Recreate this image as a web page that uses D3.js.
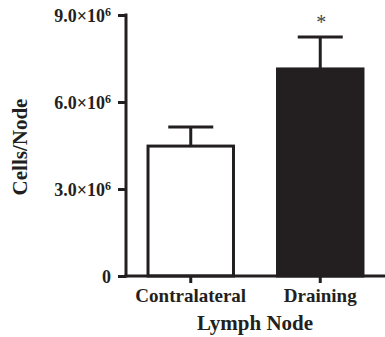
<!DOCTYPE html>
<html><head><meta charset="utf-8">
<script src="https://cdn.jsdelivr.net/npm/d3@7"></script>
<style>
body{margin:0;background:#fff;}
text{font-family:"Liberation Serif","Times New Roman",serif;font-weight:bold;fill:#231f20;}
</style></head>
<body>
<svg id="c" width="385" height="337"></svg>
<script>
const categories = ["Contralateral", "Draining"];
const means = [4.48e6, 7.14e6];
const errors = [0.66e6, 1.1e6];
const fills = ["#ffffff", "#231f20"];
const significance = ["", "*"];
const yTicks = [0, 3e6, 6e6, 9e6];
const yTickLabels = ["0", "3.0×10", "6.0×10", "9.0×10"];
const yTickExp = ["", "6", "6", "6"];
const yLabel = "Cells/Node";
const xLabel = "Lymph Node";

const ink = "#231f20";
const svg = d3.select("#c");
const x = d3.scaleBand().domain(categories).range([126, 385]).paddingInner(0.34).paddingOuter(0.17);
const y = d3.scaleLinear().domain([0, 9e6]).range([276, 15]);

// bars
svg.selectAll("rect.bar").data(categories).enter().append("rect")
  .attr("x", d => x(d)).attr("width", x.bandwidth())
  .attr("y", (d,i) => y(means[i])).attr("height", (d,i) => y(0) - y(means[i]))
  .attr("fill", (d,i) => fills[i]).attr("stroke", ink).attr("stroke-width", 3);

// error bars
const cx = d => x(d) + x.bandwidth()/2;
const capW = 45;
svg.selectAll("line.err").data(categories).enter().append("line")
  .attr("x1", cx).attr("x2", cx)
  .attr("y1", (d,i) => y(means[i])).attr("y2", (d,i) => y(means[i] + errors[i]))
  .attr("stroke", ink).attr("stroke-width", 3);
svg.selectAll("line.cap").data(categories).enter().append("line")
  .attr("x1", d => cx(d) - capW/2).attr("x2", d => cx(d) + capW/2)
  .attr("y1", (d,i) => y(means[i] + errors[i])).attr("y2", (d,i) => y(means[i] + errors[i]))
  .attr("stroke", ink).attr("stroke-width", 3);

// significance
svg.selectAll("text.sig").data(categories).enter().append("text")
  .attr("x", d => cx(d) + 1).attr("y", (d,i) => y(means[i] + errors[i]) - 8)
  .attr("text-anchor", "middle").style("font-size", "20px").style("font-weight", "normal")
  .style("fill", "#444")
  .text((d,i) => significance[i]);

// y axis
const yAxis = d3.axisLeft(y).tickValues(yTicks).tickSize(8).tickFormat(() => "");
const gy = svg.append("g").attr("transform", "translate(126,0)").call(yAxis);
gy.select(".domain").remove();
gy.selectAll(".tick line").attr("stroke", ink).attr("stroke-width", 3);
svg.append("line").attr("x1", 126).attr("x2", 126).attr("y1", y(9e6) - 1.5).attr("y2", y(0) + 1.5)
  .attr("stroke", ink).attr("stroke-width", 3);
gy.selectAll(".tick").each(function(d, i) {
  const t = d3.select(this).append("text").attr("x", -15).attr("dy", "0.35em")
    .attr("text-anchor", "end").style("font-size", "18px");
  t.append("tspan").text(yTickLabels[i]);
  if (yTickExp[i]) t.append("tspan").attr("dy", "-0.45em").style("font-size", "12px").text(yTickExp[i]);
});

// x axis
const xAxis = d3.axisBottom(x).tickSize(7).tickFormat(() => "");
const gx = svg.append("g").attr("transform", "translate(0,276)").call(xAxis);
gx.select(".domain").remove();
gx.selectAll(".tick line").attr("stroke", ink).attr("stroke-width", 3);
svg.append("line").attr("x1", 124.5).attr("x2", 385).attr("y1", 276).attr("y2", 276)
  .attr("stroke", ink).attr("stroke-width", 3);
gx.selectAll(".tick").append("text").attr("y", 26).attr("text-anchor", "middle")
  .style("font-size", "19px").text(d => d);

// axis titles
svg.append("text").attr("x", 255).attr("y", 330).attr("text-anchor", "middle")
  .style("font-size", "21px").text(xLabel);
svg.append("text").attr("transform", "translate(27,147) rotate(-90)").attr("text-anchor", "middle")
  .style("font-size", "21px").text(yLabel);
</script>
</body></html>
